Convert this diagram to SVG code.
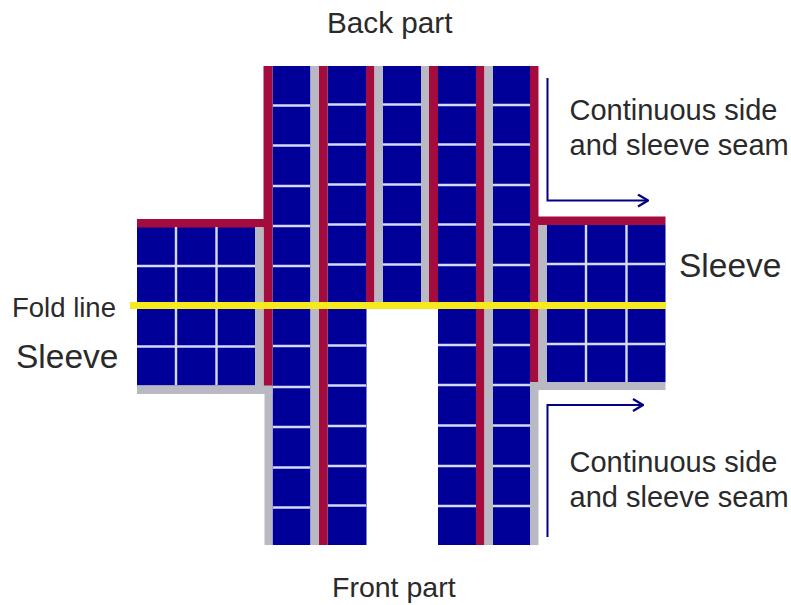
<svg xmlns="http://www.w3.org/2000/svg" width="791" height="605" viewBox="0 0 791 605">
<style>
.b{fill:#000099}.r{fill:#a50c3e}.g{fill:#b9b9c4}.y{fill:#f6ea1c}
.w{stroke:#d4daf8;stroke-width:2.400;fill:none}
.t{font-family:"Liberation Sans",Arial,sans-serif;fill:#2a2a2a;font-size:29px}
.a{stroke:#000080;stroke-width:2;fill:none}
</style>
<defs><marker id="ah" viewBox="0 0 12 14" refX="11" refY="7" markerWidth="12" markerHeight="14" markerUnits="userSpaceOnUse" orient="auto"><path d="M1 1L11 7L1 13" fill="none" stroke="#000080" stroke-width="2.200"/></marker></defs>
<rect width="791" height="605" fill="#fff"/>
<g id="back-part">
<rect class="b" x="272.500" y="66" width="38" height="479"/>
<rect class="b" x="327.500" y="66" width="39" height="479"/>
<rect class="b" x="383" y="66" width="38" height="240"/>
<rect class="b" x="438" y="66" width="38" height="479"/>
<rect class="b" x="493" y="66" width="37.500" height="479"/>
<rect class="r" x="263.500" y="66" width="9" height="320"/>
<rect class="g" x="264.500" y="386" width="8" height="159"/>
<rect class="g" x="310.500" y="66" width="8.500" height="479"/>
<rect class="r" x="319" y="66" width="8.500" height="479"/>
<rect class="r" x="366" y="66" width="8.500" height="240"/>
<rect class="g" x="374.500" y="66" width="8.500" height="240"/>
<rect class="g" x="421" y="66" width="8" height="240"/>
<rect class="r" x="429" y="66" width="9" height="240"/>
<rect class="r" x="476" y="66" width="8.500" height="479"/>
<rect class="g" x="484.500" y="66" width="8.500" height="479"/>
<rect class="r" x="530" y="66" width="8.500" height="316"/>
<rect class="g" x="530" y="382" width="8.500" height="163"/>
<path class="w" d="M273 105.500H310M273 145.500H310M273 186H310M273 226H310M273 266H310M273 346H310M273 387H310M273 427H310M273 467.500H310M273 507.500H310"/>
<path class="w" d="M328 104.500H366M328 144.500H366M328 184.500H366M328 224.500H366M328 264.500H366M328 345.500H366M328 385.500H366M328 426H366M328 466H366M328 505.500H366"/>
<path class="w" d="M383 104.500H421M383 144.500H421M383 184.500H421M383 224.500H421M383 264.500H421"/>
<path class="w" d="M438 105H476M438 144.500H476M438 185H476M438 224.500H476M438 265H476M438 345H476M438 385H476M438 425.500H476M438 466H476M438 506H476"/>
<path class="w" d="M493 105H530M493 144.500H530M493 185H530M493 224.500H530M493 265H530M493 345H530M493 385H530M493 425.500H530M493 466H530M493 506H530"/>
</g>
<g id="left-sleeve">
<rect class="b" x="137" y="227" width="118" height="158.500"/>
<rect class="r" x="137" y="219" width="127" height="8.500"/>
<rect class="g" x="255" y="227" width="8.500" height="167"/>
<rect class="g" x="137" y="385.500" width="135.500" height="8.500"/>
<path class="w" d="M176 227V385M216.500 227V385M137 266H255M137 346.500H255"/>
</g>
<g id="right-sleeve">
<rect class="b" x="547" y="225" width="118.500" height="157.500"/>
<rect class="r" x="538" y="216.500" width="127.500" height="8.500"/>
<rect class="g" x="538.500" y="225" width="8.500" height="165"/>
<rect class="g" x="530" y="382" width="135.500" height="8"/>
<path class="w" d="M586 225V382M626.500 225V382M547 264H665M547 344H665"/>
</g>
<g id="fold-line"><rect class="y" x="130" y="302" width="536" height="7"/></g>
<g id="connectors">
<path class="a" d="M547.500 78V200.500H648" marker-end="url(#ah)"/>
<path class="a" d="M547.500 537V405H643" marker-end="url(#ah)"/>
</g>
<g id="labels">
<text class="t" x="327" y="33" style="font-size:29.700px">Back part</text>
<text class="t" x="332" y="597" style="font-size:28.500px">Front part</text>
<text class="t" x="569.500" y="119.500">Continuous side</text>
<text class="t" x="569.500" y="154.500">and sleeve seam</text>
<text class="t" x="569.500" y="471.500">Continuous side</text>
<text class="t" x="569.500" y="506.500">and sleeve seam</text>
<text class="t" x="12" y="316.500" style="font-size:27.500px">Fold line</text>
<text class="t" x="16" y="367.500" style="font-size:33.500px">Sleeve</text>
<text class="t" x="679" y="276.500" style="font-size:33.500px">Sleeve</text>
</g>
</svg>
